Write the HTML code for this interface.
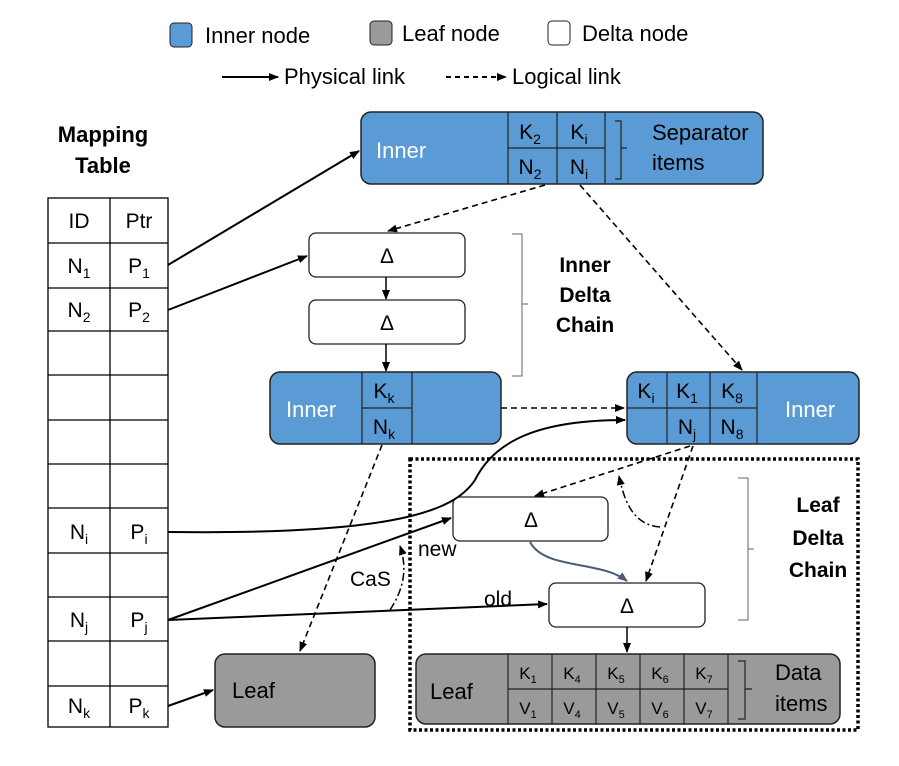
<!DOCTYPE html>
<html><head><meta charset="utf-8"><style>body{margin:0;background:#fff}svg{display:block}text{font-family:"Liberation Sans",Arial,sans-serif}</style></head><body>
<svg width="899" height="766" viewBox="0 0 899 766" xmlns="http://www.w3.org/2000/svg">
<defs>
<marker id="a" markerWidth="10" markerHeight="10" refX="9" refY="5" orient="auto" markerUnits="userSpaceOnUse"><path d="M0,1 L10,5 L0,9 z" fill="#000"/></marker>
<marker id="b" markerWidth="10" markerHeight="10" refX="9" refY="5" orient="auto" markerUnits="userSpaceOnUse"><path d="M0,1 L10,5 L0,9 z" fill="#4a5a78"/></marker>
</defs>
<!-- legend -->
<rect x="170" y="23" width="22" height="24" rx="4" fill="#5b9bd5" stroke="#222"/>
<text x="205" y="43" font-size="22">Inner node</text>
<rect x="370" y="21" width="22" height="24" rx="4" fill="#9a9a9a" stroke="#222"/>
<text x="402" y="41" font-size="22">Leaf node</text>
<rect x="548" y="21" width="22" height="24" rx="4" fill="#fff" stroke="#222"/>
<text x="582" y="41" font-size="22">Delta node</text>
<line x1="222" y1="77" x2="278" y2="77" stroke="#000" stroke-width="2" marker-end="url(#a)"/>
<text x="284" y="84" font-size="22">Physical link</text>
<line x1="446" y1="77" x2="506" y2="77" stroke="#000" stroke-width="2" stroke-dasharray="5,4" marker-end="url(#a)"/>
<text x="512" y="84" font-size="22">Logical link</text>
<!-- mapping table -->
<text x="103" y="142" font-size="22" font-weight="bold" text-anchor="middle">Mapping</text>
<text x="103" y="173" font-size="22" font-weight="bold" text-anchor="middle">Table</text>
<g stroke="#000" stroke-width="1.3" fill="none">
<rect x="48" y="198" width="120" height="529"/>
<line x1="110" y1="198" x2="110" y2="727"/>
<line x1="48" y1="243" x2="168" y2="243"/><line x1="48" y1="288" x2="168" y2="288"/>
<line x1="48" y1="331" x2="168" y2="331"/><line x1="48" y1="375" x2="168" y2="375"/>
<line x1="48" y1="420" x2="168" y2="420"/><line x1="48" y1="464" x2="168" y2="464"/>
<line x1="48" y1="508" x2="168" y2="508"/><line x1="48" y1="553" x2="168" y2="553"/>
<line x1="48" y1="597" x2="168" y2="597"/><line x1="48" y1="641" x2="168" y2="641"/>
<line x1="48" y1="686" x2="168" y2="686"/>
</g>
<g font-size="21" text-anchor="middle">
<text x="79" y="228">ID</text><text x="139" y="228">Ptr</text>
<text x="79" y="273">N<tspan font-size="14" dy="5">1</tspan></text><text x="139" y="273">P<tspan font-size="14" dy="5">1</tspan></text>
<text x="79" y="317">N<tspan font-size="14" dy="5">2</tspan></text><text x="139" y="317">P<tspan font-size="14" dy="5">2</tspan></text>
<text x="79" y="539">N<tspan font-size="14" dy="5">i</tspan></text><text x="139" y="539">P<tspan font-size="14" dy="5">i</tspan></text>
<text x="79" y="627">N<tspan font-size="14" dy="5">j</tspan></text><text x="139" y="627">P<tspan font-size="14" dy="5">j</tspan></text>
<text x="79" y="713">N<tspan font-size="14" dy="5">k</tspan></text><text x="139" y="713">P<tspan font-size="14" dy="5">k</tspan></text>
</g>
<!-- top inner -->
<rect x="361" y="112" width="402" height="72" rx="10" fill="#5b9bd5" stroke="#222" stroke-width="1.5"/>
<g stroke="#222" stroke-width="1.2"><line x1="508" y1="112" x2="508" y2="184"/><line x1="557" y1="112" x2="557" y2="184"/><line x1="605" y1="112" x2="605" y2="184"/><line x1="508" y1="148" x2="605" y2="148"/></g>
<text x="376" y="158" font-size="22" fill="#fff">Inner</text>
<g font-size="21" text-anchor="middle"><text x="530" y="139">K<tspan font-size="14" dy="5">2</tspan></text><text x="579" y="139">K<tspan font-size="14" dy="5">i</tspan></text>
<text x="530" y="174">N<tspan font-size="14" dy="5">2</tspan></text><text x="579" y="174">N<tspan font-size="14" dy="5">i</tspan></text></g>
<path d="M615,121 h6 v27 h6 M621,148 v31 h-6" fill="none" stroke="#222" stroke-width="1.2"/>
<text x="652" y="140" font-size="22">Separator</text><text x="652" y="170" font-size="22">items</text>
<!-- inner delta chain -->
<rect x="309" y="233" width="156" height="44" rx="7" fill="#fff" stroke="#222" stroke-width="1.3"/>
<text x="387" y="263" font-size="21" text-anchor="middle">Δ</text>
<rect x="309" y="300" width="156" height="44" rx="7" fill="#fff" stroke="#222" stroke-width="1.3"/>
<text x="387" y="330" font-size="21" text-anchor="middle">Δ</text>
<line x1="386" y1="277" x2="386" y2="299" stroke="#000" stroke-width="1.5" marker-end="url(#a)"/>
<line x1="386" y1="344" x2="386" y2="371" stroke="#000" stroke-width="1.5" marker-end="url(#a)"/>
<path d="M512,234 h10 v70 h6 M522,304 v72 h-10" fill="none" stroke="#666" stroke-width="1"/>
<g font-size="21" font-weight="bold" text-anchor="middle"><text x="585" y="272">Inner</text><text x="585" y="302">Delta</text><text x="585" y="332">Chain</text></g>
<!-- inner Kk -->
<rect x="270" y="372" width="231" height="72" rx="10" fill="#5b9bd5" stroke="#222" stroke-width="1.5"/>
<g stroke="#222" stroke-width="1.2"><line x1="362" y1="372" x2="362" y2="444"/><line x1="412" y1="372" x2="412" y2="444"/><line x1="362" y1="408" x2="412" y2="408"/></g>
<text x="286" y="417" font-size="22" fill="#fff">Inner</text>
<g font-size="21" text-anchor="middle"><text x="384" y="398">K<tspan font-size="14" dy="5">k</tspan></text><text x="384" y="434">N<tspan font-size="14" dy="5">k</tspan></text></g>
<!-- right inner -->
<rect x="627" y="372" width="232" height="72" rx="10" fill="#5b9bd5" stroke="#222" stroke-width="1.5"/>
<g stroke="#222" stroke-width="1.2"><line x1="667" y1="372" x2="667" y2="444"/><line x1="710" y1="372" x2="710" y2="444"/><line x1="757" y1="372" x2="757" y2="444"/><line x1="627" y1="408" x2="757" y2="408"/></g>
<text x="785" y="417" font-size="22" fill="#fff">Inner</text>
<g font-size="21" text-anchor="middle"><text x="646" y="398">K<tspan font-size="14" dy="5">i</tspan></text><text x="687" y="398">K<tspan font-size="14" dy="5">1</tspan></text><text x="732" y="398">K<tspan font-size="14" dy="5">8</tspan></text>
<text x="687" y="434">N<tspan font-size="14" dy="5">j</tspan></text><text x="732" y="434">N<tspan font-size="14" dy="5">8</tspan></text></g>
<!-- dotted box -->
<rect x="410" y="459" width="448" height="271" fill="none" stroke="#000" stroke-width="3.5" stroke-dasharray="3,2.5"/>
<!-- leaf delta -->
<rect x="453" y="497" width="155" height="44" rx="7" fill="#fff" stroke="#222" stroke-width="1.3"/>
<text x="531" y="527" font-size="21" text-anchor="middle">Δ</text>
<rect x="549" y="583" width="156" height="44" rx="7" fill="#fff" stroke="#222" stroke-width="1.3"/>
<text x="627" y="613" font-size="21" text-anchor="middle">Δ</text>
<path d="M738,478 h10 v71 h6 M748,549 v71 h-10" fill="none" stroke="#666" stroke-width="1"/>
<g font-size="21" font-weight="bold" text-anchor="middle"><text x="818" y="512">Leaf</text><text x="818" y="545">Delta</text><text x="818" y="577">Chain</text></g>
<!-- bottom leaf -->
<rect x="416" y="654" width="424" height="70" rx="10" fill="#9a9a9a" stroke="#222" stroke-width="1.5"/>
<g stroke="#222" stroke-width="1.2"><line x1="508" y1="654" x2="508" y2="724"/><line x1="552" y1="654" x2="552" y2="724"/><line x1="596" y1="654" x2="596" y2="724"/><line x1="640" y1="654" x2="640" y2="724"/><line x1="684" y1="654" x2="684" y2="724"/><line x1="728" y1="654" x2="728" y2="724"/><line x1="508" y1="689" x2="728" y2="689"/></g>
<text x="430" y="699" font-size="22">Leaf</text>
<g font-size="17" text-anchor="middle">
<text x="528" y="679">K<tspan font-size="11" dy="4">1</tspan></text><text x="572" y="679">K<tspan font-size="11" dy="4">4</tspan></text><text x="616" y="679">K<tspan font-size="11" dy="4">5</tspan></text><text x="660" y="679">K<tspan font-size="11" dy="4">6</tspan></text><text x="704" y="679">K<tspan font-size="11" dy="4">7</tspan></text>
<text x="528" y="714">V<tspan font-size="11" dy="4">1</tspan></text><text x="572" y="714">V<tspan font-size="11" dy="4">4</tspan></text><text x="616" y="714">V<tspan font-size="11" dy="4">5</tspan></text><text x="660" y="714">V<tspan font-size="11" dy="4">6</tspan></text><text x="704" y="714">V<tspan font-size="11" dy="4">7</tspan></text></g>
<path d="M738,661 h7 v28 h7 M745,689 v30 h-7" fill="none" stroke="#222" stroke-width="1.2"/>
<text x="775" y="680" font-size="22">Data</text><text x="775" y="711" font-size="22">items</text>
<!-- left leaf -->
<rect x="215" y="654" width="160" height="73" rx="10" fill="#9a9a9a" stroke="#222" stroke-width="1.5"/>
<text x="232" y="698" font-size="22">Leaf</text>
<!-- connectors -->
<g stroke="#000" stroke-width="2" fill="none">
<line x1="168" y1="265" x2="359" y2="151" marker-end="url(#a)"/>
<line x1="168" y1="310" x2="307" y2="256" marker-end="url(#a)"/>
<path d="M168,532 C400,535 455,510 475,480 C495,440 540,420 625,420" marker-end="url(#a)"/>
<line x1="168" y1="620" x2="451" y2="518" marker-end="url(#a)"/>
<line x1="168" y1="620" x2="547" y2="604" marker-end="url(#a)"/>
<line x1="168" y1="706" x2="213" y2="690" marker-end="url(#a)"/>
<line x1="627" y1="627" x2="627" y2="652" stroke-width="1.5" marker-end="url(#a)"/>
</g>
<g stroke="#000" stroke-width="1.6" fill="none" stroke-dasharray="6,4">
<line x1="545" y1="185" x2="388" y2="231" marker-end="url(#a)"/>
<line x1="580" y1="185" x2="742" y2="370" marker-end="url(#a)"/>
<line x1="501" y1="408" x2="624" y2="408" marker-end="url(#a)"/>
<line x1="382" y1="445" x2="300" y2="651" marker-end="url(#a)"/>
<line x1="690" y1="446" x2="535" y2="496" marker-end="url(#a)"/>
<line x1="693" y1="446" x2="646" y2="581" marker-end="url(#a)"/>
</g>
<g stroke="#000" stroke-width="1.5" fill="none" stroke-dasharray="8,3,2,3">
<path d="M660,527 C635,525 625,505 619,476" marker-end="url(#a)"/>
<path d="M390,610 C403,590 408,570 400,546" marker-end="url(#a)"/>
</g>
<path d="M530,542 C545,570 600,560 627,581" stroke="#4a5a78" stroke-width="2" fill="none" marker-end="url(#b)"/>
<text x="418" y="556" font-size="21">new</text>
<text x="350" y="586" font-size="21">CaS</text>
<text x="484" y="606" font-size="21">old</text>
</svg>
</body></html>
